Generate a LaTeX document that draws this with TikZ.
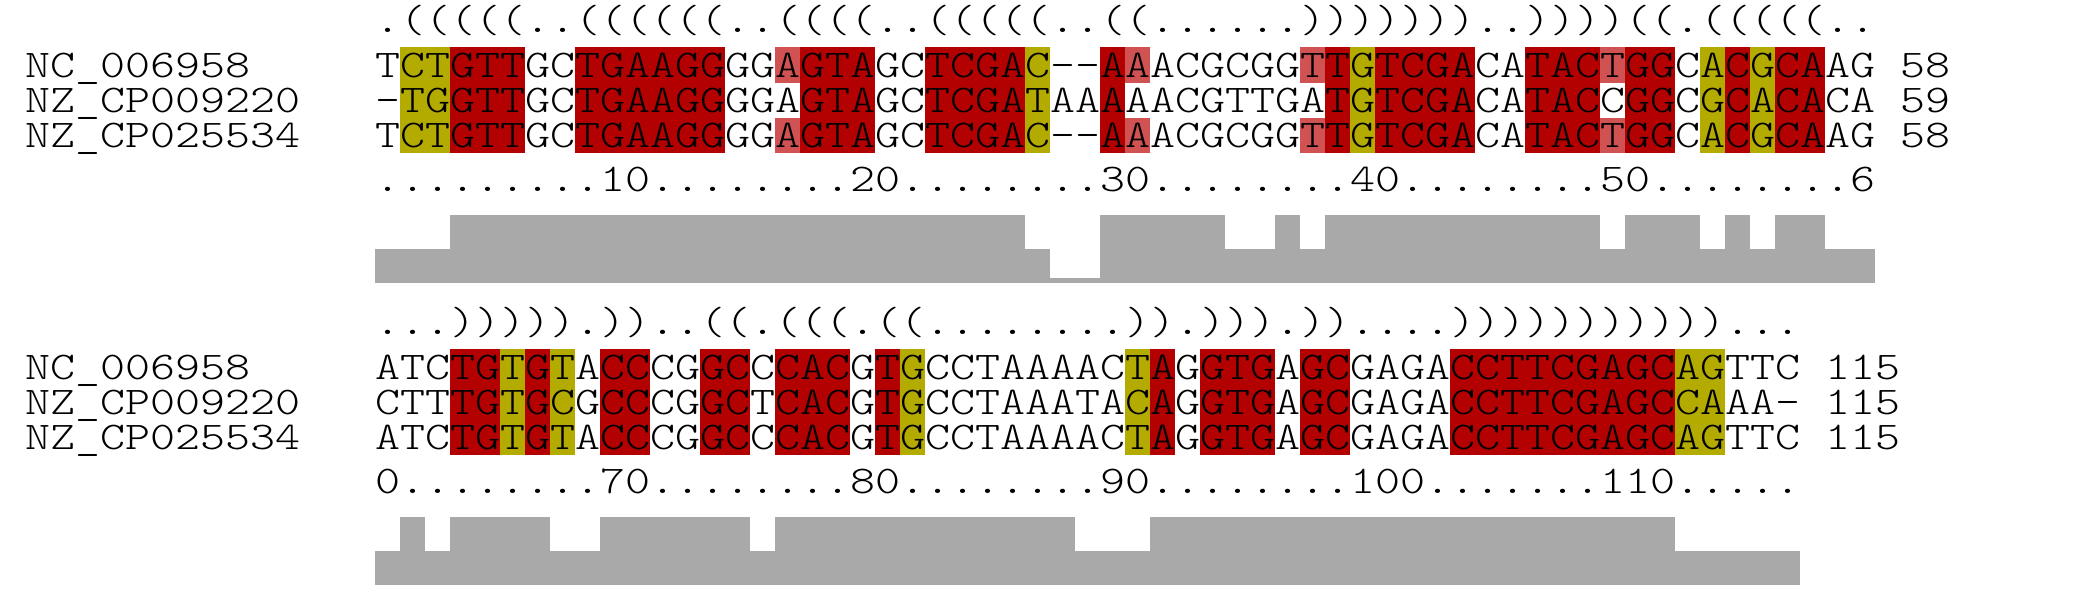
\documentclass[tikz,border=0pt]{standalone}
\usepackage{fontspec}
\setmonofont{lmmonolt10-regular.otf}[FakeStretch=1.2147]
\definecolor{pairred}{RGB}{179,0,0}
\definecolor{pairpale}{RGB}{208,82,82}
\definecolor{pairtwo}{RGB}{179,171,0}
\definecolor{consgray}{RGB}{169,169,169}

\begin{document}
\begin{tikzpicture}[
    x=12.5pt, y=-0.5pt,
    every node/.style={font=\fontsize{19.6pt}{24pt}\selectfont\ttfamily,
                       inner sep=0pt, anchor=base west},
    redcell/.style ={fill=pairred},
    palecell/.style={fill=pairpale},
    twocell/.style ={fill=pairtwo},
    consbar/.style ={fill=consgray},
]
\useasboundingbox (0,0) rectangle (83,612);

% block 1: alignment columns 1-60
\foreach \a/\b in {4/6,9/14,18/20,23/26,30/30,39/39,41/44,47/49,51/52,55/55,57/58}
  \fill[redcell] (14+\a,47.3) rectangle (15+\b,153.3);
\foreach \a/\b in {2/3,27/27,40/40,54/54,56/56}
  \fill[twocell] (14+\a,47.3) rectangle (15+\b,153.3);
\foreach \a in {17,31,38,50}{
  \fill[palecell] (14+\a,47.3) rectangle (15+\a,82.7);
  \fill[palecell] (14+\a,118) rectangle (15+\a,153.3);
}
\node (strA)   at (15,32)    {.(((((..((((((..((((..(((((..((......)))))))..))))((.(((((..};
\node (nameA1) at (1,77)     {NC\_006958};
\node (nameA2) at (1,112.3)  {NZ\_CP009220};
\node (nameA3) at (1,147.7)  {NZ\_CP025534};
\node (seqA1)  at (15,77)    {TCTGTTGCTGAAGGGGAGTAGCTCGAC--AAACGCGGTTGTCGACATACTGGCACGCAAG};
\node (seqA2)  at (15,112.3) {-TGGTTGCTGAAGGGGAGTAGCTCGATAAAAACGTTGATGTCGACATACCGGCGCACACA};
\node (seqA3)  at (15,147.7) {TCTGTTGCTGAAGGGGAGTAGCTCGAC--AAACGCGGTTGTCGACATACTGGCACGCAAG};
\node (lenA1)  at (76,77)    {58};
\node (lenA2)  at (76,112.3) {59};
\node (lenA3)  at (76,147.7) {58};
\node (rulA)   at (15,191)   {.........10........20........30........40........50........6};
\foreach \a/\b/\h in {1/3/33.8,4/26/67.7,27/27/33.8,28/29/4.7,30/34/67.7,35/36/33.8,
                      37/37/67.7,38/38/33.8,39/49/67.7,50/50/33.8,51/53/67.7,54/54/33.8,
                      55/55/67.7,56/56/33.8,57/58/67.7,59/60/33.8}
  \fill[consbar] (14+\a,282.7) rectangle (15+\b,282.7-\h);

% block 2: alignment columns 61-117
\foreach \a/\b in {4/5,7/7,10/11,14/15,17/19,21/21,32/32,34/36,38/39,44/52}
  \fill[redcell] (14+\a,349.3) rectangle (15+\b,455.3);
\foreach \a/\b in {6/6,8/8,22/22,31/31,53/54}
  \fill[twocell] (14+\a,349.3) rectangle (15+\b,455.3);
\node (strB)   at (15,334)   {...))))).))..((.(((.((........)).))).))....)))))))))))...};
\node (nameB1) at (1,379)    {NC\_006958};
\node (nameB2) at (1,414.3)  {NZ\_CP009220};
\node (nameB3) at (1,449.7)  {NZ\_CP025534};
\node (seqB1)  at (15,379)   {ATCTGTGTACCCGGCCCACGTGCCTAAAACTAGGTGAGCGAGACCTTCGAGCAGTTC};
\node (seqB2)  at (15,414.3) {CTTTGTGCGCCCGGCTCACGTGCCTAAATACAGGTGAGCGAGACCTTCGAGCCAAA-};
\node (seqB3)  at (15,449.7) {ATCTGTGTACCCGGCCCACGTGCCTAAAACTAGGTGAGCGAGACCTTCGAGCAGTTC};
\node (lenB1)  at (73,379)   {115};
\node (lenB2)  at (73,414.3) {115};
\node (lenB3)  at (73,449.7) {115};
\node (rulB)   at (15,493)   {0........70........80........90........100.......110.....};
\foreach \a/\b/\h in {1/1/33.8,2/2/67.7,3/3/33.8,4/7/67.7,8/9/33.8,10/15/67.7,16/16/33.8,
                      17/28/67.7,29/31/33.8,32/52/67.7,53/57/33.8}
  \fill[consbar] (14+\a,584.7) rectangle (15+\b,584.7-\h);
\end{tikzpicture}
\end{document}
